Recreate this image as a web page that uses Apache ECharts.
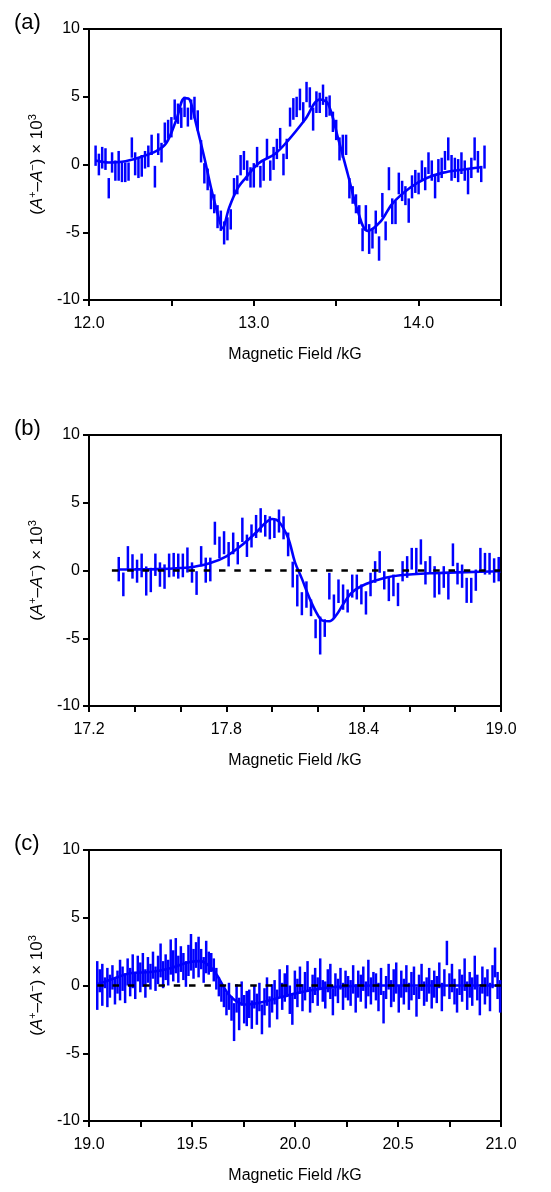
<!DOCTYPE html>
<html>
<head>
<meta charset="utf-8">
<title>MCD spectra</title>
<script src="https://cdn.jsdelivr.net/npm/echarts@6/dist/echarts.min.js"></script>
<style>
  html, body { margin: 0; padding: 0; background: #fff; }
  #main { width: 551px; height: 1192px; }
</style>
</head>
<body>
<div id="main"></div>
<script type="text/javascript">
// panel (a): measured points, drawn as vertical bars (lo..hi), field step 0.02 kG
var aStart = 12.04, aStep = 0.02;
var aLo = [-0.1, -0.8, -0.3, -0.4, -2.5, -0.6, -1.2, -1.2, -1.3, -1.3, -1.2, 0.5, -0.8, -1.0, -0.9, -0.3, -0.2, 0.7, -1.7, 0.7,
  0.15, 1.6, 1.9, 2.0, 3.3, 3.0, 2.7, 3.5, 2.8, 3.3, 3.4, 2.5, 0.15, -1.4, -1.9, -3.3, -3.6, -4.7, -4.9, -5.9,
  -5.6, -4.8, -2.3, -2.2, -0.8, -0.4, -1.2, -1.7, -1.7, -0.2, -1.7, -1.2, 0.4, -1.2, -0.4, 0.4, 1.2, -0.8, 0.4, 2.8,
  3.3, 3.5, 4.0, 3.1, 4.6, 4.2, 2.5, 3.8, 3.8, 4.4, 3.5, 3.6, 2.4, 1.8, 0.3, 0.5, 0.7, -2.5, -2.9, -3.6,
  -4.4, -6.4, -4.9, -6.6, -6.2, -5.1, -7.1, -3.9, -5.6, -1.9, -4.4, -4.4, -2.2, -2.7, -3.0, -4.3, -2.5, -2.1, -2.2, -1.2,
  -1.9, -0.7, -1.2, -2.5, -1.3, -1.0, -0.4, 0.3, -1.2, -1.0, -1.3, -0.7, -1.2, -2.2, -1.0, 0.3, -0.6, -1.3, -0.3];
var aHi = [1.4, 0.8, 1.3, 1.2, -1.0, 0.9, 0.3, 1.0, 0.15, 0.15, 0.15, 2.0, 0.9, 0.5, 0.7, 1.0, 1.4, 2.2, -0.1, 2.3,
  1.6, 3.1, 3.3, 3.5, 4.8, 4.5, 4.2, 5.0, 4.2, 4.8, 5.0, 4.0, 1.8, 0.1, -0.3, -1.8, -2.2, -3.0, -3.4, -4.2,
  -3.9, -3.3, -1.0, -0.8, 0.7, 1.0, 0.3, -0.2, 0.1, 1.3, -0.1, 0.3, 1.9, 0.3, 1.3, 1.9, 2.7, 0.8, 1.9, 4.2,
  4.9, 5.0, 5.6, 4.6, 6.1, 5.7, 4.2, 5.4, 5.3, 5.9, 5.0, 5.1, 3.9, 3.3, 2.0, 2.2, 2.2, -1.0, -1.6, -2.2,
  -3.0, -4.7, -3.0, -4.4, -4.7, -3.4, -5.3, -2.1, -4.2, -0.2, -2.5, -2.7, -0.6, -1.2, -1.6, -2.5, -0.8, -0.4, -0.6, 0.3,
  -0.2, 0.9, 0.3, -0.8, 0.4, 0.5, 1.0, 2.0, 0.7, 0.5, 0.4, 0.9, 0.3, -0.4, 0.5, 2.0, 1.0, -0.1, 1.4];
// panel (a): fitted curve
var aFitX = [12.04, 12.12, 12.20, 12.30, 12.41, 12.47, 12.53, 12.58, 12.61, 12.65, 12.70, 12.74, 12.78, 12.81, 12.85, 12.90, 12.95,
  13.03, 13.13, 13.21, 13.31, 13.40, 13.45, 13.51, 13.57, 13.63, 13.69, 13.77, 13.84, 13.95, 14.05, 14.15, 14.25, 14.38];
var aFitY = [0.3, 0.15, 0.2, 0.5, 1.0, 1.6, 3.3, 4.9, 4.8, 3.0, 0.5, -1.7, -3.6, -4.7, -3.2, -1.8, -1.0,
  0.1, 0.8, 1.8, 3.3, 4.8, 4.5, 2.0, -0.7, -3.4, -4.9, -4.2, -2.9, -1.7, -1.0, -0.6, -0.4, -0.2];

// panel (b)
var bStart = 17.33, bStep = 0.02;
var bLo = [-0.8, -1.9, 0.07, -0.6, -0.9, -0.5, -1.85, -1.6, -0.4, -1.2, -1.35, -0.5, -0.45, -0.6, -0.5, -0.15, -0.9, -1.8, 0.3, -0.9,
  -0.8, 1.9, 0.9, 1.2, 0.3, 1.2, 0.45, 2.1, 1.0, 1.7, 2.4, 2.8, 2.5, 2.3, 2.4, 2.8, 2.3, 1.05, -1.25, -2.65,
  -3.3, -2.75, -3.37, -5.0, -6.2, -4.9, -2.14, -3.5, -2.4, -2.9, -3.1, -2.0, -2.14, -2.5, -3.25, -1.9, -0.91, -0.17, -1.4, -2.26,
  -1.9, -2.63, -0.8, -0.54, 0.07, -0.3, 0.44, -1.03, -0.2, -2.0, -1.77, -1.28, -2.14, 0.32, -1.03, -1.28, -2.39, -2.39, -1.5, 0.07,
  -0.3, -0.3, -0.9, -0.8];
var bHi = [1.0, -0.15, 1.8, 1.2, 0.8, 1.25, 0.3, 0.2, 1.25, 0.6, 0.45, 1.25, 1.3, 1.25, 1.25, 1.7, 0.6, -0.05, 1.8, 0.95,
  0.95, 3.6, 2.5, 2.9, 2.1, 2.8, 2.1, 3.9, 2.65, 3.4, 4.1, 4.6, 4.1, 4.0, 3.75, 4.5, 4.0, 2.8, 0.65, -0.3,
  -1.6, -0.8, -2.14, -3.6, -3.4, -3.6, -0.17, -1.77, -0.66, -1.03, -1.4, -0.3, -0.3, -1.03, -1.53, -0.17, 0.69, 1.43, -0.05, -0.54,
  -0.3, -0.91, 0.69, 1.06, 1.67, 1.67, 2.3, 0.69, 1.06, 0.32, -0.17, 0.32, -0.17, 2.0, 0.57, 0.44, -0.54, -0.54, 0.07, 1.67,
  1.3, 1.3, 0.9, 1.0];
var bFitX = [17.33, 17.40, 17.50, 17.60, 17.66, 17.73, 17.80, 17.87, 17.93, 17.97, 18.00, 18.03, 18.07, 18.10, 18.13, 18.16, 18.19,
  18.22, 18.25, 18.28, 18.31, 18.35, 18.41, 18.49, 18.56, 18.70, 18.85, 19.00];
var bFitY = [0.07, 0.08, 0.1, 0.18, 0.28, 0.55, 1.05, 1.9, 2.8, 3.5, 3.8, 3.6, 2.4, 0.6, -0.6, -1.9, -3.0,
  -3.7, -3.75, -3.3, -2.5, -1.6, -1.0, -0.55, -0.35, -0.2, -0.12, -0.05];

// panel (c): dense bars, step 0.0123 kG
var cStart = 19.04, cStep = 0.0123;
var cLo = [-1.8, -0.5, -1.5, -0.2, -1.6, -0.9, -0.3, -1.4, -0.6, -1.1,
  -0.4, -1.3, 0.0, -0.8, -0.2, -1.0, 0.3, -0.5, -0.1, -0.9,
  0.2, -0.3, 0.5, -0.4, 0.1, 0.6, -0.2, 0.4, 0.0, 0.8,
  0.3, 0.9, 0.2, 1.0, 0.4, -0.1, 0.7, 1.1, 0.5, 1.3,
  0.6, 1.2, 0.2, 0.9, 0.8, 1.0, 0.3, -0.3, -0.8, -1.2,
  -1.6, -2.2, -1.8, -2.6, -4.1, -2.0, -3.3, -1.5, -2.8, -3.0,
  -2.4, -3.2, -1.7, -2.9, -1.9, -3.6, -2.2, -1.5, -3.1, -2.0,
  -1.4, -2.5, -0.9, -1.8, -1.2, -0.7, -2.1, -2.9, -1.0, -1.6,
  -0.6, -1.9, -1.1, -0.4, -2.0, -1.3, -0.7, -1.5, -0.2, -1.2,
  -1.7, -0.5, -1.0, -2.2, -0.8, -1.3, -0.3, -1.8, -0.9, -1.1,
  -1.5, -0.6, -2.0, -0.9, -1.2, -0.4, -1.7, -0.8, -1.4, -0.5,
  -1.1, -1.9, -0.7, -2.8, -1.0, -0.3, -1.6, -1.2, -0.6, -2.0,
  -0.9, -1.4, -0.5, -1.8, -1.1, -0.7, -2.3, -1.0, -0.4, -1.5,
  -1.2, -0.6, -1.7, -0.9, -1.3, -0.2, -1.9, -0.8, 1.5, -1.0,
  -0.5, -1.4, -2.0, -0.7, -1.2, -0.4, -1.8, -0.9, -1.5, -0.3,
  -1.1, -2.2, -0.6, -1.4, -0.8, -1.9, -0.2, 0.6, -1.0, -2.0];
var cHi = [1.8, 1.2, 1.6, 0.6, 1.3, 0.8, 1.5, 0.5, 1.1, 1.9,
  1.4, 0.9, 2.0, 1.3, 2.3, 1.0, 2.2, 1.7, 2.4, 1.2,
  2.1, 1.6, 2.5, 1.4, 2.2, 3.1, 1.8, 2.3, 1.9, 3.4,
  2.6, 3.5, 2.2, 2.9, 2.4, 1.8, 3.0, 3.8, 2.7, 3.2,
  3.6, 2.7, 2.1, 3.3, 2.5, 2.4, 2.0, 1.3, 0.6, 0.2,
  -0.1, -0.5, 0.2, -0.8, -1.3, 0.1, -0.9, 0.3, -0.7, -0.4,
  -0.3, -1.1, 0.0, -0.6, 0.2, -1.4, -0.2, 0.6, -0.8, 0.1,
  0.4, -0.3, 1.2, 0.2, 0.9, 1.5, 0.0, -0.6, 1.1, 0.5,
  1.4, 0.1, 1.0, 1.8, -0.1, 0.8, 1.3, 0.6, 2.0, 0.4,
  0.3, 1.2, 1.6, -0.2, 0.9, 0.5, 1.3, 0.2, 1.1, 0.7,
  0.4, 1.5, 0.1, 1.1, 0.8, 1.4, 0.3, 1.9, 0.6, 1.0,
  0.9, 0.2, 1.3, -0.4, 0.7, 1.6, 0.4, 1.2, 1.7, 0.0,
  1.1, 0.5, 1.5, 0.2, 1.0, 1.4, -0.1, 0.8, 1.6, 0.3,
  0.6, 1.3, 0.4, 1.1, 0.7, 1.7, 0.2, 1.2, 3.3, 0.9,
  1.6, 0.5, -0.2, 1.2, 0.8, 2.0, 0.3, 1.0, 0.6, 2.2,
  0.8, -0.1, 1.4, 0.6, 1.2, 0.2, 1.5, 2.8, 1.0, 0.4];
var cFitX = [19.04, 19.10, 19.20, 19.30, 19.40, 19.48, 19.54, 19.58, 19.62, 19.65, 19.68, 19.72, 19.76, 19.82, 19.90, 20.00,
  20.10, 20.20, 20.40, 20.70, 21.00];
var cFitY = [0.1, 0.4, 0.9, 1.0, 1.3, 1.7, 1.8, 1.5, 0.8, 0.0, -0.7, -1.2, -1.4, -1.3, -1.0, -0.6,
  -0.3, -0.1, 0.0, 0.0, 0.0];

// axis ranges / ticks
var xMin = [12.0, 17.2, 19.0];
var xMax = [14.5, 19.0, 21.0];
var xStep = [0.5, 0.2, 0.25];
var xLabelEvery = [2, 3, 2];
var zeroFrom = [null, 17.30, 19.04];
var panelNames = ['(a)', '(b)', '(c)'];

var FONT = '"Liberation Sans", Arial, sans-serif';
var BLUE = '#0000ff';
var gridTops = [29, 435, 850];
var barWidth = [2.5, 2.5, 2.5];

function zip(xs, ys) {
  return xs.map(function (x, i) { return [x, ys[i]]; });
}
function bars(start, step, lo, hi) {
  return lo.map(function (v, i) { return [start + i * step, v, hi[i]]; });
}
function barRenderer(w) {
  return function (params, api) {
    var p1 = api.coord([api.value(0), api.value(1)]);
    var p2 = api.coord([api.value(0), api.value(2)]);
    return {
      type: 'line',
      shape: { x1: p1[0], y1: p1[1], x2: p2[0], y2: p2[1] },
      style: { stroke: BLUE, lineWidth: w }
    };
  };
}

var grids = [], xAxes = [], yAxes = [], titles = [], series = [];
for (var k = 0; k < 3; k++) {
  grids.push({
    left: 89, top: gridTops[k], width: 412, height: 271,
    show: true, borderColor: '#000', borderWidth: 2, backgroundColor: 'transparent'
  });
  titles.push({
    text: panelNames[k], left: 9, top: gridTops[k] - 22,
    textStyle: { fontFamily: FONT, fontSize: 22, fontWeight: 'normal', color: '#000' }
  });
  (function (k) {
    xAxes.push({
      type: 'value', gridIndex: k, min: xMin[k], max: xMax[k], interval: xStep[k],
      name: 'Magnetic Field /kG', nameLocation: 'middle', nameGap: 47,
      nameTextStyle: { fontFamily: FONT, fontSize: 16, color: '#000' },
      axisLine: { show: true, onZero: false, lineStyle: { color: '#000', width: 2 } },
      axisTick: { show: true, inside: false, length: 6, lineStyle: { color: '#000', width: 2 } },
      axisLabel: {
        fontFamily: FONT, fontSize: 16, color: '#000', margin: 16,
        showMinLabel: true, showMaxLabel: true,
        formatter: function (v) {
          var idx = Math.round((v - xMin[k]) / xStep[k]);
          return idx % xLabelEvery[k] === 0 ? v.toFixed(1) : '';
        }
      },
      splitLine: { show: false }
    });
  })(k);
  yAxes.push({
    type: 'value', gridIndex: k, min: -10, max: 10, interval: 5,
    name: '{n|(}{i|A}{s|+}{n|\u2013}{i|A}{s|\u2212}{n|) \u00d7 10}{s|3}',
    nameLocation: 'middle', nameGap: 40, nameRotate: 90,
    nameTextStyle: {
      fontFamily: FONT, fontSize: 17, color: '#000',
      rich: {
        n: { fontFamily: FONT, fontSize: 17, color: '#000', lineHeight: 21 },
        i: { fontFamily: FONT, fontSize: 17, color: '#000', fontStyle: 'italic', lineHeight: 21 },
        s: { fontFamily: FONT, fontSize: 11, color: '#000', verticalAlign: 'top', lineHeight: 21 }
      }
    },
    axisLine: { show: true, onZero: false, lineStyle: { color: '#000', width: 2 } },
    axisTick: { show: true, inside: false, length: 6, lineStyle: { color: '#000', width: 2 } },
    axisLabel: { fontFamily: FONT, fontSize: 16, color: '#000', margin: 9 },
    splitLine: { show: false }
  });
}

// noisy data, one bar per field point
var barData = [bars(aStart, aStep, aLo, aHi), bars(bStart, bStep, bLo, bHi), bars(cStart, cStep, cLo, cHi)];
barData.forEach(function (d, k) {
  series.push({
    type: 'custom', xAxisIndex: k, yAxisIndex: k, renderItem: barRenderer(barWidth[k]),
    encode: { x: 0, y: [1, 2] }, data: d, z: 2, silent: true
  });
});

// fitted curves
var fits = [zip(aFitX, aFitY), zip(bFitX, bFitY), zip(cFitX, cFitY)];
fits.forEach(function (d, k) {
  series.push({
    type: 'line', xAxisIndex: k, yAxisIndex: k, data: d, smooth: 0.35,
    showSymbol: false, z: 3, silent: true,
    lineStyle: { color: BLUE, width: 2.6 }
  });
});

// zero reference (b), (c)
[1, 2].forEach(function (k) {
  series.push({
    type: 'line', xAxisIndex: k, yAxisIndex: k, data: [[zeroFrom[k], 0], [xMax[k], 0]],
    showSymbol: false, z: 4, silent: true,
    lineStyle: { color: '#000', width: 2.5, type: [6.5, 8.8] }
  });
});

var chart = echarts.init(document.getElementById('main'), null, { renderer: 'canvas' });
chart.setOption({
  animation: false,
  backgroundColor: '#fff',
  title: titles,
  grid: grids,
  xAxis: xAxes,
  yAxis: yAxes,
  series: series
});
</script>
</body>
</html>
